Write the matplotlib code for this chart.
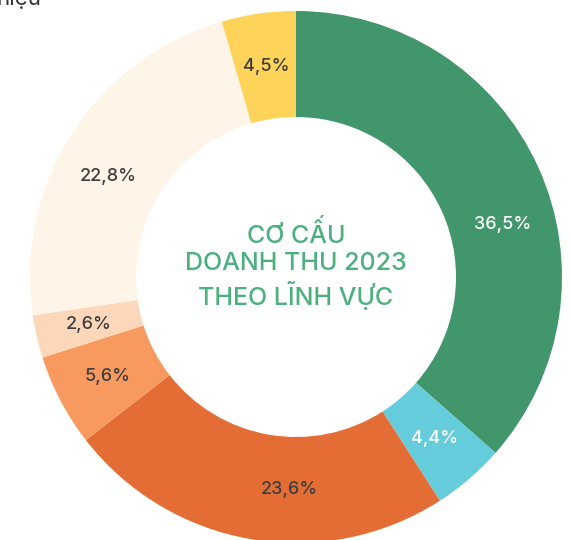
import numpy as np
import matplotlib
matplotlib.use("Agg")
import matplotlib.pyplot as plt

# Data
values = [36.5, 4.4, 23.6, 5.6, 2.6, 22.8, 4.5]
labels = ["36,5%", "4,4%", "23,6%", "5,6%", "2,6%", "22,8%", "4,5%"]
center_title = "CƠ CẤU\nDOANH THU 2023\nTHEO LĨNH VỰC"

# Styles
colors = ["#41966C", "#65CCDC", "#E46D35", "#F89A5F", "#FDD7B9", "#FEF4E7", "#FDD35A"]
label_colors = ["white", "white", "#3E3E3E", "#3E3E3E", "#3E3E3E", "#3E3E3E", "#3E3E3E"]
label_angle_shift = [-10, 0, 8, 0, 0, 4.5, 0]

W, H = 572, 540
fig = plt.figure(figsize=(W / 100, H / 100), dpi=100)
ax = fig.add_axes([0, 0, 1, 1])

cx, cy = 296, H - 277
R = 266
width = 106

wedges, _ = ax.pie(values, colors=colors, startangle=90, counterclock=False,
                   center=(cx, cy), radius=R,
                   wedgeprops=dict(width=width, linewidth=0), frame=True)

font = "Inter"
r_lab = R - width / 2
for w, lab, c, sh in zip(wedges, labels, label_colors, label_angle_shift):
    ang = np.deg2rad((w.theta1 + w.theta2) / 2 + sh)
    ax.text(cx + r_lab * np.cos(ang), cy + r_lab * np.sin(ang), lab,
            ha="center", va="center", color=c, fontsize=13,
            fontfamily=font, fontweight="medium")

ax.text(cx, cy + 12, center_title, ha="center", va="center", color="#4BB07E",
        fontsize=18, fontfamily=font, fontweight="medium", linespacing=1.25)

ax.text(-4, H - 5, "hiệu", ha="left", va="baseline", color="#333333",
        fontsize=16, fontfamily=font)

ax.set_xlim(0, W)
ax.set_ylim(0, H)
ax.set_aspect("equal")
ax.axis("off")

fig.savefig("out.png", dpi=100)
